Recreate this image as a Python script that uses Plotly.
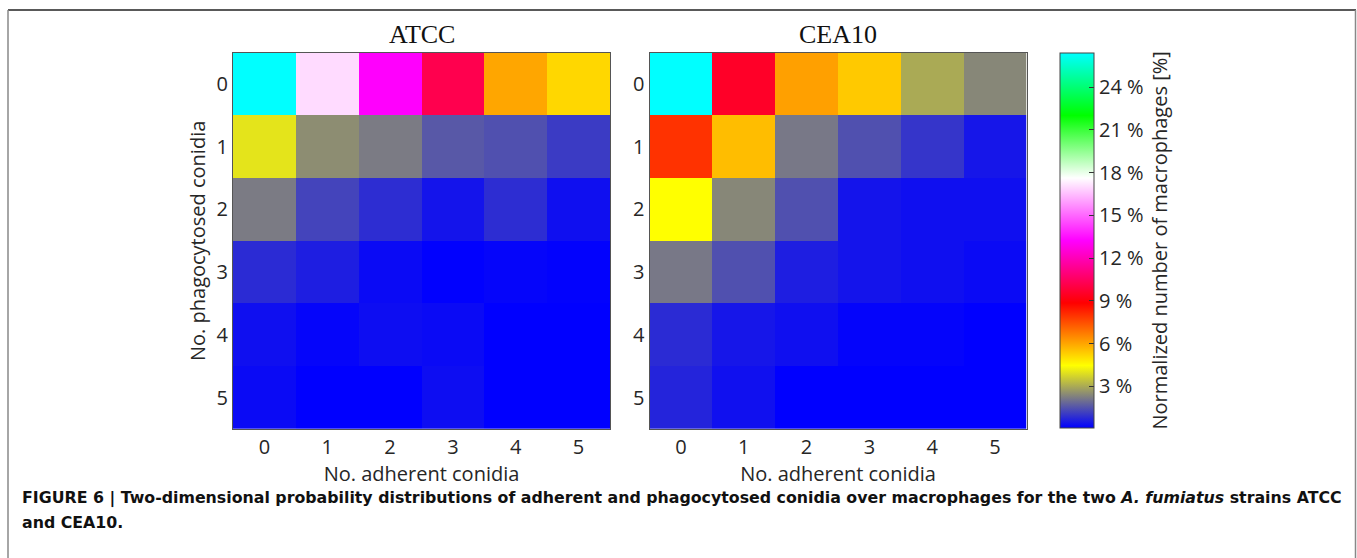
import plotly.graph_objects as go

W, H = 1357, 558

adherent = [0, 1, 2, 3, 4, 5]
phagocytosed = [0, 1, 2, 3, 4, 5]

# rows: phagocytosed 0..5, cols: adherent 0..5, values in %
atcc = [
    [26.4, 17.0, 13.2, 10.2, 6.0, 5.15],
    [4.0, 2.5, 2.2, 1.6, 1.45, 1.1],
    [2.2, 1.25, 0.86, 0.43, 0.86, 0.34],
    [0.82, 0.6, 0.25, 0.1, 0.17, 0.12],
    [0.34, 0.17, 0.3, 0.25, 0.08, 0.08],
    [0.25, 0.08, 0.08, 0.3, 0.08, 0.08],
]
cea10 = [
    [26.4, 9.55, 6.1, 5.4, 3.0, 2.4],
    [8.0, 5.6, 2.15, 1.45, 1.0, 0.45],
    [4.47, 2.4, 1.45, 0.43, 0.34, 0.34],
    [2.15, 1.45, 0.6, 0.43, 0.34, 0.25],
    [0.82, 0.45, 0.34, 0.15, 0.15, 0.08],
    [0.7, 0.36, 0.08, 0.08, 0.08, 0.08],
]
cbar_ticks = [3, 6, 9, 12, 15, 18, 21, 24]
cbar_text = [f"{v} %" for v in cbar_ticks]

zmin, zmax = 0.08, 26.4
colorscale = [
    [0.0, "rgb(0,0,255)"],
    [1/6, "rgb(255,255,0)"],
    [2/6, "rgb(255,0,0)"],
    [3/6, "rgb(255,0,255)"],
    [4/6, "rgb(255,255,255)"],
    [5/6, "rgb(0,255,0)"],
    [1.0, "rgb(0,255,255)"],
]

def px(x):
    return x / W

def py(y):
    return 1 - y / H

FS = 20
TXT = "#262626"
FONT = "Open Sans"

top, bottom = 52.7, 429
fig = go.Figure()
fig.add_trace(go.Heatmap(z=atcc, x=adherent, y=phagocytosed, xaxis="x", yaxis="y",
                         colorscale=colorscale, zmin=zmin, zmax=zmax, showscale=False))
fig.add_trace(go.Heatmap(z=cea10, x=adherent, y=phagocytosed, xaxis="x2", yaxis="y2",
                         colorscale=colorscale, zmin=zmin, zmax=zmax, showscale=True,
                         colorbar=dict(
                             x=px(1059.5), xanchor="left", xref="paper", xpad=0, ypad=0,
                             y=py((52.7 + 428) / 2), yanchor="middle", yref="paper",
                             len=(428 - 52.7) / H, lenmode="fraction", thickness=34,
                             outlinewidth=1, outlinecolor="#444",
                             tickmode="array", tickvals=cbar_ticks, ticktext=cbar_text,
                             ticks="inside", ticklen=5, tickcolor="#333",
                             tickfont=dict(family=FONT, size=FS, color=TXT),
                             title=dict(text="Normalized number of macrophages [%]", side="right",
                                        font=dict(family=FONT, size=FS, color=TXT)),
                         )))

axis_common = dict(showline=True, mirror=True, linecolor="#555", linewidth=1,
                   showgrid=False, zeroline=False, ticks="",
                   tickfont=dict(family=FONT, size=FS, color=TXT),
                   automargin=False, tickmode="array", tickvals=[0, 1, 2, 3, 4, 5])

fig.update_layout(
    width=W, height=H, margin=dict(l=0, r=0, t=0, b=0),
    paper_bgcolor="white", plot_bgcolor="white",
    xaxis=dict(domain=[px(233), px(610)], anchor="y", range=[-0.5, 5.5],
               title=dict(text="No. adherent conidia", standoff=0,
                          font=dict(family=FONT, size=FS, color=TXT)), **axis_common),
    yaxis=dict(domain=[py(bottom), py(top)], anchor="x", range=[5.5, -0.5],
               title=dict(text="No. phagocytosed conidia", standoff=5,
                          font=dict(family=FONT, size=FS, color=TXT)), **axis_common),
    xaxis2=dict(domain=[px(649.5), px(1026.5)], anchor="y2", range=[-0.5, 5.5],
                title=dict(text="No. adherent conidia", standoff=0,
                           font=dict(family=FONT, size=FS, color=TXT)), **axis_common),
    yaxis2=dict(domain=[py(bottom), py(top)], anchor="x2", range=[5.5, -0.5], **axis_common),
)

# panel titles
for xc, t in [((233 + 610) / 2, "ATCC"), ((649.5 + 1026.5) / 2, "CEA10")]:
    fig.add_annotation(x=px(xc), y=py(35), xref="paper", yref="paper", text=t, showarrow=False,
                       xanchor="center", yanchor="middle",
                       font=dict(family="Liberation Serif", size=26, color="#111"))

# caption
CAP = dict(family="DejaVu Sans", size=15.8, color="#111")
fig.add_annotation(x=px(20), y=py(498), xref="paper", yref="paper", showarrow=False,
                   xanchor="left", yanchor="middle", align="left",
                   text="<b>FIGURE 6 | Two-dimensional probability distributions of adherent and phagocytosed conidia over macrophages for the two <i>A. fumiatus</i> strains ATCC</b>",
                   font=CAP)
fig.add_annotation(x=px(20), y=py(522), xref="paper", yref="paper", showarrow=False,
                   xanchor="left", yanchor="middle", align="left",
                   text="<b>and CEA10.</b>", font=CAP)

# frame lines
fig.add_shape(type="line", xref="paper", yref="paper", x0=px(8), x1=px(1356), y0=py(10), y1=py(10),
              line=dict(color="#222", width=1.5))
fig.add_shape(type="line", xref="paper", yref="paper", x0=px(8), x1=px(8), y0=py(10), y1=0,
              line=dict(color="#888", width=1.5))
fig.add_shape(type="line", xref="paper", yref="paper", x0=px(1355.5), x1=px(1355.5), y0=py(10), y1=0,
              line=dict(color="#888", width=1.5))

fig.write_html("out.html")
